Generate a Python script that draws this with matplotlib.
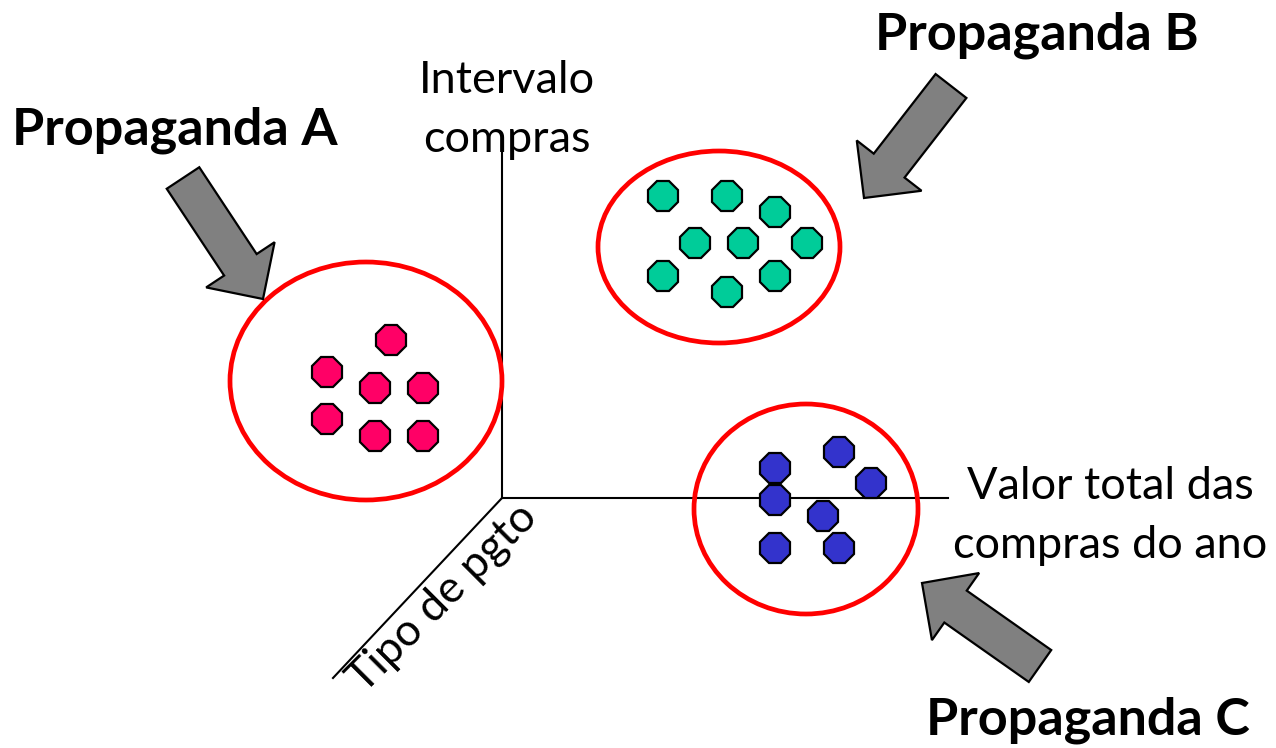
""" Segmentacao de clientes: tres grupos e tres propagandas
desenho em coordenadas de pixel """

import matplotlib.pyplot as plt
from matplotlib.patches import Ellipse, FancyArrow
plt.rc("font", family="Lato")

# grupos (x, y em pixels da figura, y para baixo)
ax_a = [391, 327, 375, 423, 327, 375, 423]
ay_a = [340, 372, 388, 388, 419, 436, 436]
ax_b = [663, 727, 775, 695, 743, 807, 663, 727, 775]
ay_b = [196, 196, 212, 243, 243, 243, 276, 292, 276]
ax_c = [775, 839, 871, 775, 823, 775, 839]
ay_c = [468, 452, 483, 500, 516, 548, 548]
cores = ['#ff0066', '#00cc99', '#3333cc']

# elipses: centro x, centro y, largura, altura
ell_x = [366, 719, 806]
ell_y = [381, 247, 509]
ell_w = [272, 242, 224]
ell_h = [238, 192, 210]

# setas: cauda (x, y) e ponta (x, y)
seta_x0 = [183, 951, 1040]
seta_y0 = [178, 86, 666]
seta_x1 = [263, 864, 922]
seta_y1 = [299, 198, 583]

rotulos = ['Propaganda A', 'Propaganda B', 'Propaganda C']
rot_x = [175, 1037, 1088]
rot_y = [130, 35, 720]

origem = (502, 498)

fig = plt.figure(figsize=(12.76, 7.48), dpi=100)
ax = fig.add_axes([0, 0, 1, 1])
ax.set_xlim(0, 1276)
ax.set_ylim(748, 0)
ax.axis('off')

# eixos do "3D"
ax.plot([origem[0], origem[0]], [origem[1], 145], c='k', lw=1.5)
ax.plot([origem[0], 948], [origem[1], origem[1]], c='k', lw=1.5)
ax.plot([origem[0], 333], [origem[1], 678], c='k', lw=1.5)

for xs, ys, c in zip([ax_a, ax_b, ax_c], [ay_a, ay_b, ay_c], cores):
    ax.plot(xs, ys, ls='none', marker='8', ms=24, mfc=c, mec='k', mew=1.6,
            zorder=5)

for x, y, w, h in zip(ell_x, ell_y, ell_w, ell_h):
    ax.add_patch(Ellipse((x, y), w, h, fill=False, ec='#ff0000', lw=3.4,
                         zorder=4))

for x0, y0, x1, y1 in zip(seta_x0, seta_y0, seta_x1, seta_y1):
    ax.add_patch(FancyArrow(x0, y0, x1-x0, y1-y0, width=39, head_width=82,
                            head_length=41, length_includes_head=True,
                            fc='#808080', ec='k', lw=1.6, zorder=6))

for t, x, y in zip(rotulos, rot_x, rot_y):
    ax.text(x, y, t, fontsize=37.5, fontweight='bold', ha='center',
            va='center')

ax.text(507, 110, "Intervalo\ncompras", fontsize=32.5, ha='center',
        va='center', linespacing=1.55)
ax.text(1110, 516, "Valor total das\ncompras do ano", fontsize=32.5,
        ha='center', va='center', linespacing=1.55)
ax.text(443, 598, "Tipo de pgto", fontsize=32, ha='center', va='center',
        rotation=45, rotation_mode='anchor')

plt.savefig("out.png", dpi=100)
